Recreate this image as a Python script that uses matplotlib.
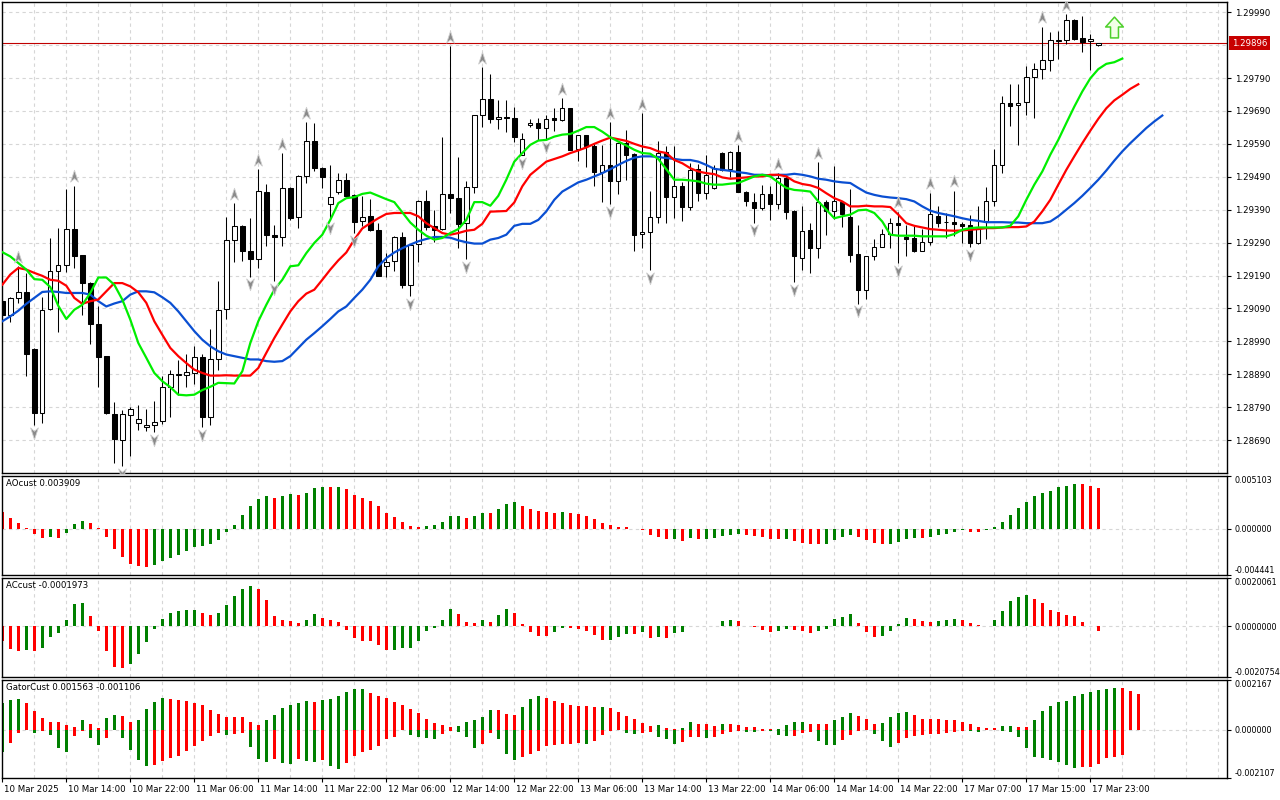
import numpy as np
import matplotlib
matplotlib.use("Agg")
import matplotlib.pyplot as plt
from matplotlib.path import Path
from matplotlib.transforms import blended_transform_factory, ScaledTranslation

plt.rcParams['font.family'] = ['DejaVu Sans']

# ---- GBPUSD H1 candles (10 Mar 06:00 .. 18 Mar 00:00) ----
opens = [
    1.29114, 1.29071, 1.29122, 1.29140, 1.28968, 1.28772, 1.29088, 1.29203, 1.29221, 1.29331,
    1.29252, 1.29166, 1.29043, 1.28944, 1.28770, 1.28691, 1.28767, 1.28742, 1.28730, 1.28736,
    1.28747, 1.28852, 1.28888, 1.28888, 1.28894, 1.28943, 1.28761, 1.28937, 1.29088, 1.29299,
    1.29340, 1.29264, 1.29240, 1.29443, 1.29313, 1.29307, 1.29456, 1.29367, 1.29492, 1.29598,
    1.29516, 1.29407, 1.29443, 1.29480, 1.29435, 1.29355, 1.29371, 1.29329, 1.29219, 1.29233,
    1.29307, 1.29160, 1.29286, 1.29416, 1.29340, 1.29332, 1.29437, 1.29425, 1.29349, 1.29459,
    1.29677, 1.29726, 1.29665, 1.29671, 1.29669, 1.29557, 1.29646, 1.29653, 1.29637, 1.29668,
    1.29662, 1.29698, 1.29574, 1.29616, 1.29584, 1.29503, 1.29525, 1.29476, 1.29592, 1.29559,
    1.29316, 1.29322, 1.29367, 1.29564, 1.29430, 1.29461, 1.29398, 1.29514, 1.29440, 1.29455,
    1.29562, 1.29513, 1.29565, 1.29445, 1.29414, 1.29395, 1.29437, 1.29407, 1.29486, 1.29387,
    1.29243, 1.29329, 1.29275, 1.29414, 1.29387, 1.29414, 1.29369, 1.29256, 1.29145, 1.29248,
    1.29278, 1.29315, 1.29349, 1.29307, 1.29304, 1.29263, 1.29292, 1.29370, 1.29354, 1.29354,
    1.29346, 1.29343, 1.29288, 1.29357, 1.29416, 1.29526, 1.29713, 1.29707, 1.29716, 1.29792,
    1.29817, 1.29844, 1.29902, 1.29906, 1.29965, 1.29911, 1.29902, 1.29889]
highs = [
    1.29122, 1.29124, 1.29218, 1.29198, 1.28970, 1.29125, 1.29304, 1.29334, 1.29452, 1.29463,
    1.29252, 1.29169, 1.29096, 1.28947, 1.28806, 1.28780, 1.28791, 1.28797, 1.28785, 1.28810,
    1.28886, 1.28904, 1.28932, 1.28953, 1.28977, 1.28953, 1.29028, 1.29174, 1.29369, 1.29411,
    1.29343, 1.29364, 1.29513, 1.29469, 1.29343, 1.29563, 1.29458, 1.29494, 1.29657, 1.29653,
    1.29521, 1.29526, 1.29500, 1.29500, 1.29437, 1.29433, 1.29422, 1.29351, 1.29258, 1.29311,
    1.29322, 1.29286, 1.29420, 1.29450, 1.29388, 1.29610, 1.29887, 1.29550, 1.29476, 1.29679,
    1.29823, 1.29802, 1.29724, 1.29724, 1.29701, 1.29624, 1.29666, 1.29668, 1.29677, 1.29698,
    1.29729, 1.29698, 1.29618, 1.29618, 1.29592, 1.29585, 1.29657, 1.29594, 1.29633, 1.29561,
    1.29683, 1.29447, 1.29598, 1.29582, 1.29584, 1.29473, 1.29531, 1.29529, 1.29557, 1.29526,
    1.29565, 1.29568, 1.29587, 1.29448, 1.29440, 1.29466, 1.29463, 1.29501, 1.29491, 1.29390,
    1.29402, 1.29351, 1.29535, 1.29420, 1.29524, 1.29416, 1.29452, 1.29344, 1.29250, 1.29301,
    1.29331, 1.29364, 1.29384, 1.29343, 1.29339, 1.29332, 1.29442, 1.29402, 1.29380, 1.29448,
    1.29354, 1.29374, 1.29400, 1.29459, 1.29575, 1.29736, 1.29772, 1.29772, 1.29825, 1.29835,
    1.29946, 1.29929, 1.29932, 1.29984, 1.29968, 1.29978, 1.29924, 1.29897]
lows = [
    1.29061, 1.29048, 1.29107, 1.28884, 1.28737, 1.28742, 1.29086, 1.29018, 1.29200, 1.29213,
    1.29070, 1.28981, 1.28851, 1.28770, 1.28621, 1.28611, 1.28641, 1.28722, 1.28717, 1.28714,
    1.28740, 1.28761, 1.28828, 1.28851, 1.28859, 1.28729, 1.28737, 1.28902, 1.29058, 1.29230,
    1.29233, 1.29187, 1.29212, 1.29281, 1.29174, 1.29281, 1.29359, 1.29333, 1.29472, 1.29509,
    1.29457, 1.29359, 1.29437, 1.29430, 1.29319, 1.29339, 1.29325, 1.29189, 1.29187, 1.29203,
    1.29152, 1.29129, 1.29231, 1.29329, 1.29292, 1.29329, 1.29380, 1.29273, 1.29240, 1.29440,
    1.29640, 1.29653, 1.29635, 1.29627, 1.29595, 1.29555, 1.29640, 1.29602, 1.29604, 1.29629,
    1.29660, 1.29572, 1.29539, 1.29519, 1.29461, 1.29412, 1.29408, 1.29437, 1.29481, 1.29266,
    1.29273, 1.29206, 1.29349, 1.29349, 1.29364, 1.29357, 1.29388, 1.29415, 1.29422, 1.29453,
    1.29509, 1.29488, 1.29443, 1.29400, 1.29351, 1.29388, 1.29359, 1.29393, 1.29363, 1.29169,
    1.29206, 1.29198, 1.29243, 1.29313, 1.29361, 1.29336, 1.29230, 1.29105, 1.29120, 1.29238,
    1.29276, 1.29273, 1.29228, 1.29248, 1.29260, 1.29263, 1.29282, 1.29337, 1.29304, 1.29309,
    1.29289, 1.29276, 1.29286, 1.29301, 1.29400, 1.29501, 1.29643, 1.29585, 1.29678, 1.29670,
    1.29786, 1.29810, 1.29849, 1.29892, 1.29904, 1.29870, 1.29815, 1.29888]
closes = [
    1.29071, 1.29122, 1.29140, 1.28952, 1.28772, 1.29085, 1.29203, 1.29221, 1.29331, 1.29250,
    1.29166, 1.29043, 1.28942, 1.28772, 1.28693, 1.28770, 1.28785, 1.28755, 1.28736, 1.28745,
    1.28852, 1.28890, 1.28891, 1.28898, 1.28943, 1.28761, 1.28937, 1.29085, 1.29299, 1.29340,
    1.29263, 1.29240, 1.29446, 1.29312, 1.29307, 1.29456, 1.29365, 1.29492, 1.29598, 1.29516,
    1.29490, 1.29428, 1.29480, 1.29433, 1.29352, 1.29368, 1.29327, 1.29189, 1.29231, 1.29307,
    1.29160, 1.29284, 1.29416, 1.29338, 1.29327, 1.29437, 1.29424, 1.29346, 1.29459, 1.29677,
    1.29726, 1.29665, 1.29671, 1.29668, 1.29610, 1.29604, 1.29653, 1.29637, 1.29665, 1.29662,
    1.29698, 1.29572, 1.29616, 1.29582, 1.29503, 1.29525, 1.29476, 1.29592, 1.29557, 1.29314,
    1.29322, 1.29367, 1.29562, 1.29430, 1.29461, 1.29398, 1.29511, 1.29440, 1.29496, 1.29518,
    1.29511, 1.29565, 1.29445, 1.29415, 1.29395, 1.29437, 1.29407, 1.29486, 1.29382, 1.29248,
    1.29326, 1.29275, 1.29414, 1.29387, 1.29416, 1.29377, 1.29253, 1.29145, 1.29248, 1.29278,
    1.29315, 1.29349, 1.29343, 1.29301, 1.29263, 1.29292, 1.29377, 1.29351, 1.29352, 1.29346,
    1.29339, 1.29289, 1.29331, 1.29416, 1.29526, 1.29713, 1.29705, 1.29713, 1.29792, 1.29817,
    1.29844, 1.29904, 1.29906, 1.29965, 1.29909, 1.29898, 1.29908, 1.29896]

# ---- Alligator lines (already shifted forward: lips +3, teeth +5, jaw +8) ----
lips = [
    1.29261, 1.29248, 1.29228, 1.29208, 1.29179, 1.29177, 1.29155, 1.29098, 1.29058, 1.29086,
    1.29101, 1.29137, 1.29184, 1.29184, 1.29162, 1.29117, 1.29056, 1.28985, 1.28940, 1.28894,
    1.28869, 1.28851, 1.28828, 1.28826, 1.28828, 1.28842, 1.28852, 1.28864, 1.28863, 1.28862,
    1.28899, 1.28985, 1.29051, 1.29101, 1.29147, 1.29177, 1.29218, 1.29221, 1.29258, 1.29289,
    1.29314, 1.29359, 1.29410, 1.29425, 1.29428, 1.29438, 1.29442, 1.29432, 1.29422, 1.29413,
    1.29382, 1.29351, 1.29329, 1.29311, 1.29299, 1.29304, 1.29319, 1.29331, 1.29359, 1.29413,
    1.29413, 1.29402, 1.29432, 1.29481, 1.29536, 1.29562, 1.29587, 1.29600, 1.29602, 1.29612,
    1.29618, 1.29620, 1.29630, 1.29641, 1.29641, 1.29627, 1.29610, 1.29597, 1.29585, 1.29572,
    1.29562, 1.29560, 1.29544, 1.29513, 1.29481, 1.29481, 1.29479, 1.29476, 1.29469, 1.29466,
    1.29466, 1.29469, 1.29471, 1.29481, 1.29491, 1.29496, 1.29491, 1.29473, 1.29456, 1.29450,
    1.29448, 1.29445, 1.29415, 1.29390, 1.29364, 1.29370, 1.29375, 1.29388, 1.29390, 1.29380,
    1.29354, 1.29314, 1.29311, 1.29311, 1.29311, 1.29309, 1.29309, 1.29309, 1.29309, 1.29316,
    1.29329, 1.29334, 1.29336, 1.29336, 1.29336, 1.29336, 1.29341, 1.29370, 1.29420, 1.29466,
    1.29506, 1.29557, 1.29602, 1.29653, 1.29703, 1.29749, 1.29789, 1.29817, 1.29833, 1.29838,
    1.29849]
teeth = [
    1.29162, 1.29193, 1.29213, 1.29208, 1.29198, 1.29189, 1.29177, 1.29174, 1.29159, 1.29122,
    1.29104, 1.29112, 1.29117, 1.29142, 1.29167, 1.29167, 1.29157, 1.29139, 1.29107, 1.29051,
    1.29010, 1.28970, 1.28945, 1.28924, 1.28904, 1.28894, 1.28886, 1.28886, 1.28887, 1.28886,
    1.28886, 1.28886, 1.28909, 1.28955, 1.29000, 1.29041, 1.29081, 1.29112, 1.29135, 1.29147,
    1.29177, 1.29208, 1.29236, 1.29260, 1.29299, 1.29333, 1.29349, 1.29364, 1.29377, 1.29380,
    1.29380, 1.29380, 1.29370, 1.29349, 1.29334, 1.29319, 1.29314, 1.29319, 1.29326, 1.29329,
    1.29347, 1.29384, 1.29385, 1.29386, 1.29412, 1.29461, 1.29496, 1.29516, 1.29536, 1.29544,
    1.29552, 1.29562, 1.29570, 1.29579, 1.29590, 1.29600, 1.29609, 1.29604, 1.29599, 1.29590,
    1.29582, 1.29577, 1.29567, 1.29562, 1.29541, 1.29531, 1.29516, 1.29506, 1.29501, 1.29498,
    1.29488, 1.29484, 1.29486, 1.29488, 1.29491, 1.29491, 1.29496, 1.29496, 1.29491, 1.29476,
    1.29468, 1.29464, 1.29456, 1.29440, 1.29425, 1.29415, 1.29400, 1.29400, 1.29402, 1.29400,
    1.29400, 1.29398, 1.29375, 1.29349, 1.29341, 1.29336, 1.29331, 1.29329, 1.29327, 1.29326,
    1.29327, 1.29329, 1.29331, 1.29334, 1.29334, 1.29336, 1.29337, 1.29337, 1.29339, 1.29354,
    1.29385, 1.29420, 1.29466, 1.29511, 1.29552, 1.29592, 1.29630, 1.29666, 1.29698, 1.29722,
    1.29739, 1.29757, 1.29771]
jaw = [
    1.29051, 1.29066, 1.29083, 1.29104, 1.29122, 1.29140, 1.29142, 1.29140, 1.29137, 1.29137,
    1.29137, 1.29132, 1.29112, 1.29096, 1.29105, 1.29112, 1.29132, 1.29142, 1.29142, 1.29139,
    1.29124, 1.29107, 1.29081, 1.29051, 1.29021, 1.28995, 1.28975, 1.28960, 1.28950, 1.28945,
    1.28940, 1.28935, 1.28935, 1.28930, 1.28928, 1.28930, 1.28945, 1.28970, 1.28995, 1.29015,
    1.29036, 1.29058, 1.29081, 1.29096, 1.29122, 1.29147, 1.29177, 1.29218, 1.29243, 1.29260,
    1.29273, 1.29284, 1.29294, 1.29301, 1.29307, 1.29307, 1.29305, 1.29297, 1.29291, 1.29287,
    1.29287, 1.29299, 1.29304, 1.29314, 1.29341, 1.29347, 1.29347, 1.29359, 1.29385, 1.29420,
    1.29445, 1.29459, 1.29473, 1.29481, 1.29491, 1.29501, 1.29513, 1.29526, 1.29538, 1.29548,
    1.29552, 1.29552, 1.29550, 1.29547, 1.29544, 1.29541, 1.29541, 1.29536, 1.29526, 1.29514,
    1.29511, 1.29508, 1.29504, 1.29501, 1.29496, 1.29496, 1.29494, 1.29496, 1.29496, 1.29499,
    1.29496, 1.29491, 1.29484, 1.29481, 1.29476, 1.29473, 1.29471, 1.29456, 1.29442, 1.29435,
    1.29430, 1.29427, 1.29425, 1.29422, 1.29415, 1.29400, 1.29387, 1.29380, 1.29375, 1.29370,
    1.29364, 1.29359, 1.29356, 1.29352, 1.29352, 1.29352, 1.29351, 1.29351, 1.29349, 1.29349,
    1.29349, 1.29354, 1.29370, 1.29390, 1.29410, 1.29432, 1.29456, 1.29481, 1.29509, 1.29539,
    1.29567, 1.29592, 1.29615, 1.29638, 1.29658, 1.29676]

fractal_up = [2, 9, 29, 32, 35, 38, 56, 60, 70, 76, 80, 92, 97, 102, 112, 116, 119, 130, 133]
fractal_down = [4, 15, 19, 25, 31, 34, 41, 44, 51, 58, 65, 68, 76, 81, 94, 99, 107, 112, 121]
signal_bar, signal_price = 139, 1.29945
last_price = 1.29896

# ---- oscillators, in units of 0.001 ----
ao = [
    1.60, 1.05, 0.52, 0.10, -0.49, -0.88, -0.78, -0.88, -0.39, 0.42,
    0.75, 0.56, 0.10, -0.78, -1.96, -2.75, -3.37, -3.63, -3.73, -3.53,
    -3.14, -2.84, -2.58, -2.16, -1.76, -1.67, -1.47, -1.08, -0.36, 0.36,
    1.34, 2.22, 2.84, 3.10, 2.91, 3.10, 3.30, 3.28, 3.40, 3.89,
    3.99, 3.97, 3.99, 3.79, 3.24, 2.91, 2.71, 2.22, 1.50, 1.11,
    0.65, 0.23, 0.13, 0.26, 0.36, 0.65, 1.24, 1.25, 1.05, 1.24,
    1.54, 1.53, 1.93, 2.39, 2.52, 2.22, 1.93, 1.73, 1.63, 1.54,
    1.63, 1.54, 1.44, 1.24, 0.95, 0.56, 0.36, 0.16, 0.15, -0.03,
    -0.16, -0.62, -0.78, -0.98, -0.96, -1.18, -0.88, -0.98, -0.97, -0.88,
    -0.69, -0.59, -0.49, -0.59, -0.69, -0.78, -0.98, -0.99, -0.97, -1.18,
    -1.37, -1.47, -1.48, -1.46, -1.08, -0.78, -0.59, -0.78, -1.08, -1.37,
    -1.47, -1.46, -1.27, -0.98, -0.88, -0.89, -0.78, -0.62, -0.49, -0.29,
    -0.16, -0.29, -0.30, -0.16, 0.13, 0.65, 1.34, 1.96, 2.61, 3.10,
    3.40, 3.59, 3.99, 4.08, 4.28, 4.27, 4.08, 3.909]
ac = [
    -0.61, -0.94, -1.02, -0.98, -1.02, -0.90, -0.44, -0.28, 0.26, 0.91,
    0.97, 0.41, -0.19, -1.02, -1.69, -1.73, -1.56, -1.15, -0.65, -0.11,
    0.29, 0.55, 0.64, 0.66, 0.67, 0.55, 0.46, 0.55, 0.87, 1.24,
    1.56, 1.66, 1.54, 1.08, 0.41, 0.25, 0.24, 0.12, 0.25, 0.50,
    0.36, 0.25, 0.18, -0.15, -0.48, -0.61, -0.62, -0.77, -0.98, -0.97,
    -0.90, -0.89, -0.61, -0.19, -0.07, 0.28, 0.71, 0.50, 0.18, 0.12,
    0.25, 0.18, 0.46, 0.71, 0.54, 0.08, -0.22, -0.40, -0.41, -0.24,
    -0.07, -0.08, -0.11, -0.19, -0.36, -0.57, -0.56, -0.44, -0.32, -0.33,
    -0.24, -0.48, -0.44, -0.48, -0.28, -0.24, 0.03, 0.02, 0.01, 0.02,
    0.21, 0.25, 0.21, 0.01, -0.04, -0.15, -0.24, -0.19, -0.11, -0.15,
    -0.19, -0.28, -0.19, -0.11, 0.29, 0.40, 0.50, 0.12, -0.24, -0.44,
    -0.40, -0.19, 0.08, 0.33, 0.32, 0.21, 0.17, 0.21, 0.25, 0.29,
    0.25, 0.12, 0.04, 0.02, 0.25, 0.62, 1.04, 1.20, 1.29, 1.12,
    0.95, 0.66, 0.58, 0.46, 0.41, 0.17, 0.01, -0.1973]
gator_up = [
    1.15, 1.29, 1.33, 1.16, 0.82, 0.52, 0.34, 0.33, 0.22, 0.11,
    0.43, 0.23, 0.09, 0.52, 0.65, 0.59, 0.34, 0.43, 0.90, 1.21,
    1.38, 1.32, 1.29, 1.23, 1.15, 1.05, 0.86, 0.70, 0.57, 0.56,
    0.55, 0.34, 0.19, 0.44, 0.65, 0.93, 1.05, 1.15, 1.23, 1.21,
    1.29, 1.33, 1.48, 1.62, 1.76, 1.77, 1.59, 1.48, 1.38, 1.21,
    1.09, 0.90, 0.73, 0.47, 0.30, 0.22, 0.11, 0.16, 0.34, 0.43,
    0.56, 0.86, 0.85, 0.69, 0.65, 0.99, 1.32, 1.46, 1.38, 1.25,
    1.16, 1.08, 1.03, 1.02, 0.99, 1.00, 0.95, 0.77, 0.60, 0.47,
    0.30, 0.17, 0.22, 0.09, 0.03, 0.06, 0.34, 0.26, 0.25, 0.17,
    0.26, 0.25, 0.22, 0.13, 0.11, 0.04, 0.02, 0.03, 0.22, 0.33,
    0.34, 0.26, 0.25, 0.24, 0.43, 0.56, 0.73, 0.60, 0.47, 0.26,
    0.30, 0.56, 0.73, 0.77, 0.65, 0.47, 0.46, 0.45, 0.44, 0.43,
    0.34, 0.26, 0.13, 0.09, 0.08, 0.17, 0.18, 0.12, 0.11, 0.43,
    0.82, 1.04, 1.21, 1.25, 1.46, 1.55, 1.64, 1.72, 1.76, 1.81,
    1.80, 1.68, 1.563]
gator_down = [
    -0.96, -0.57, -0.14, -0.01, -0.14, -0.07, -0.24, -0.80, -0.98, -0.29,
    -0.06, -0.37, -0.67, -0.37, -0.03, -0.37, -0.86, -1.32, -1.58, -1.54,
    -1.35, -1.23, -1.15, -0.93, -0.72, -0.50, -0.29, -0.16, -0.23, -0.19,
    -0.14, -0.76, -1.28, -1.39, -1.28, -1.45, -1.49, -1.28, -1.36, -1.39,
    -1.32, -1.58, -1.69, -1.43, -1.16, -0.98, -0.89, -0.72, -0.42, -0.32,
    -0.02, -0.22, -0.32, -0.34, -0.39, -0.20, -0.07, -0.11, -0.33, -0.80,
    -0.63, -0.14, -0.42, -1.06, -1.32, -1.19, -1.06, -0.93, -0.72, -0.67,
    -0.64, -0.62, -0.59, -0.60, -0.50, -0.25, -0.07, -0.03, -0.16, -0.17,
    -0.14, -0.11, -0.33, -0.42, -0.63, -0.55, -0.33, -0.32, -0.37, -0.33,
    -0.19, -0.11, -0.07, -0.08, -0.09, -0.05, -0.07, -0.24, -0.29, -0.28,
    -0.16, -0.11, -0.50, -0.67, -0.68, -0.46, -0.24, -0.07, -0.02, -0.20,
    -0.50, -0.76, -0.59, -0.37, -0.29, -0.24, -0.20, -0.19, -0.15, -0.10,
    -0.04, -0.07, -0.08, -0.03, -0.02, -0.07, -0.10, -0.33, -0.80, -1.19,
    -1.23, -1.32, -1.41, -1.54, -1.66, -1.62, -1.61, -1.49, -1.23, -1.18,
    -1.106]

time_labels = ["10 Mar 2025", "10 Mar 14:00", "10 Mar 22:00", "11 Mar 06:00", "11 Mar 14:00",
               "11 Mar 22:00", "12 Mar 06:00", "12 Mar 14:00", "12 Mar 22:00", "13 Mar 06:00",
               "13 Mar 14:00", "13 Mar 22:00", "14 Mar 06:00", "14 Mar 14:00", "14 Mar 22:00",
               "17 Mar 07:00", "17 Mar 15:00", "17 Mar 23:00"]
price_ticks = [1.28690, 1.28790, 1.28890, 1.28990, 1.29090, 1.29190, 1.29290,
               1.29390, 1.29490, 1.29590, 1.29690, 1.29790, 1.29990]
price_grid = price_ticks + [1.29890]

GREEN, RED = '#008000', '#ff0000'
GRID = '#d6d6d6'
FS = 6.2

W, H = 1280, 800
fig = plt.figure(figsize=(W / 100, H / 100), dpi=100, facecolor='white')


def rect(top, bottom, left=2.3, right=1227):
    return [left / W, 1 - bottom / H, (right - left) / W, (bottom - top) / H]


ax = fig.add_axes(rect(2.3, 472.7))
ax_ao = fig.add_axes(rect(475.7, 574.7))
ax_ac = fig.add_axes(rect(577.7, 676.7))
ax_gt = fig.add_axes(rect(679.7, 778.3))
XMAX = (1227 - 2.3) / 8


def base_style(a, fs):
    a.set_facecolor('white')
    a.set_xlim(0, XMAX)
    for s in a.spines.values():
        s.set_color('black')
        s.set_linewidth(1)
    a.yaxis.tick_right()
    a.tick_params(axis='y', direction='out', length=3, width=0.8, labelsize=fs, pad=2.5)
    a.tick_params(axis='x', bottom=False, labelbottom=False)
    for xg in range(4, int(XMAX) + 1, 4):
        a.axvline(xg, color=GRID, lw=0.8, ls=(0, (3, 3)), zorder=0)


base_style(ax, FS)
for a in (ax_ao, ax_ac, ax_gt):
    base_style(a, 5.8)

# ---- main chart ----
n = len(closes)
x = np.arange(n)
o, h, l, c = map(np.array, (opens, highs, lows, closes))
for p in price_grid:
    ax.axhline(p, color=GRID, lw=0.8, ls=(0, (3, 3)), zorder=0)
ax.axhline(last_price, color='#c00000', lw=0.8, zorder=1)

ax.vlines(x, l, h, color='black', lw=0.75, zorder=3)
bull = c >= o
ax.bar(x, np.abs(c - o), bottom=np.minimum(o, c), width=0.55,
       color=np.where(bull, 'white', 'black'), edgecolor='black', linewidth=0.75, zorder=3)

ax.plot(np.arange(len(jaw)), jaw, color='#0a4fd2', lw=1.6, zorder=4)
ax.plot(np.arange(len(teeth)), teeth, color='#ff0000', lw=1.6, zorder=4)
ax.plot(np.arange(len(lips)), lips, color='#00ee00', lw=1.6, zorder=4)

arrow_up = Path([(0, 1), (0.62, -0.9), (0, -0.35), (-0.62, -0.9), (0, 1)],
                [Path.MOVETO, Path.LINETO, Path.LINETO, Path.LINETO, Path.CLOSEPOLY])
arrow_dn = Path([(0, -1), (0.62, 0.9), (0, 0.35), (-0.62, 0.9), (0, -1)],
                [Path.MOVETO, Path.LINETO, Path.LINETO, Path.LINETO, Path.CLOSEPOLY])
ax.plot(fractal_up, h[fractal_up] + 0.00028, ls='none', marker=arrow_up, ms=9,
        mfc='#8a8a8a', mec='#cfcfcf', mew=0.6, zorder=5)
ax.plot(fractal_down, l[fractal_down] - 0.00024, ls='none', marker=arrow_dn, ms=9,
        mfc='#8a8a8a', mec='#cfcfcf', mew=0.6, zorder=5)

block_up = Path([(0, 1), (0.85, 0.05), (0.38, 0.05), (0.38, -1), (-0.38, -1), (-0.38, 0.05),
                 (-0.85, 0.05), (0, 1)],
                [Path.MOVETO] + [Path.LINETO] * 6 + [Path.CLOSEPOLY])
ax.plot([signal_bar], [signal_price], ls='none', marker=block_up, ms=15,
        mfc='#f2ffe6', mec='#4cd02a', mew=1.1, zorder=5)

ax.set_ylim(1.28591, 1.30020)
ax.set_yticks(price_ticks)
ax.set_yticklabels([f'{p:.5f}' for p in price_ticks])
tr = blended_transform_factory(ax.transAxes, ax.transData)
ax.text(1.0 + 5 / 1224.7, last_price, f'{last_price:.5f}', transform=tr, ha='left', va='center',
        color='white', fontsize=FS, clip_on=False,
        bbox=dict(boxstyle='square,pad=0.3', fc='#c80000', ec='none'))


# ---- oscillators ----
def updown(vals, first, use_abs=False):
    v = np.abs(vals) if use_abs else np.asarray(vals)
    cols = [first]
    for a, b in zip(v[:-1], v[1:]):
        cols.append(GREEN if b > a else RED)
    return cols


def osc_axis(a, lo, hi, fmt, title):
    a.axhline(0, color=GRID, lw=0.8, ls=(0, (3, 3)), zorder=0)
    a.set_ylim(lo, hi)
    a.set_yticks([lo, 0, hi])
    a.set_yticklabels([fmt % lo, fmt % 0, fmt % hi])
    labels = a.get_yticklabels()
    labels[0].set_va('bottom')
    labels[2].set_va('top')
    a.text(4 / 1224.7, 1 - 3 / 99, title, transform=a.transAxes, ha='left', va='top', fontsize=FS)


ao_v = np.array(ao) * 1e-3
ax_ao.bar(np.arange(len(ao_v)), ao_v, width=0.45, color=updown(ao_v, RED), zorder=2)
osc_axis(ax_ao, -0.004441, 0.005103, '%.6f', 'AOcust 0.003909')

ac_v = np.array(ac) * 1e-3
ax_ac.bar(np.arange(len(ac_v)), ac_v, width=0.45, color=updown(ac_v, RED), zorder=2)
osc_axis(ax_ac, -0.0020754, 0.0020061, '%.7f', 'ACcust -0.0001973')

gu = np.array(gator_up) * 1e-3
gd = np.array(gator_down) * 1e-3
ax_gt.bar(np.arange(len(gu)), gu, width=0.45, color=updown(gu, GREEN, True), zorder=2)
ax_gt.bar(np.arange(len(gd)), gd, width=0.45, color=updown(gd, GREEN, True), zorder=2)
osc_axis(ax_gt, -0.002107, 0.002167, '%.6f', 'GatorCust 0.001563 -0.001106')

# ---- time scale ----
ax_gt.set_xticks(np.arange(0, 8 * len(time_labels), 8))
ax_gt.set_xticklabels(time_labels)
ax_gt.tick_params(axis='x', bottom=True, labelbottom=True, direction='out', length=3,
                  width=0.8, labelsize=FS, pad=2)
shift = ScaledTranslation(1.5 / 72, 0, fig.dpi_scale_trans)
for lab in ax_gt.get_xticklabels():
    lab.set_ha('left')
    lab.set_transform(lab.get_transform() + shift)
ax_gt.set_xlim(0, XMAX)

fig.savefig('out.png', dpi=100, facecolor='white')
